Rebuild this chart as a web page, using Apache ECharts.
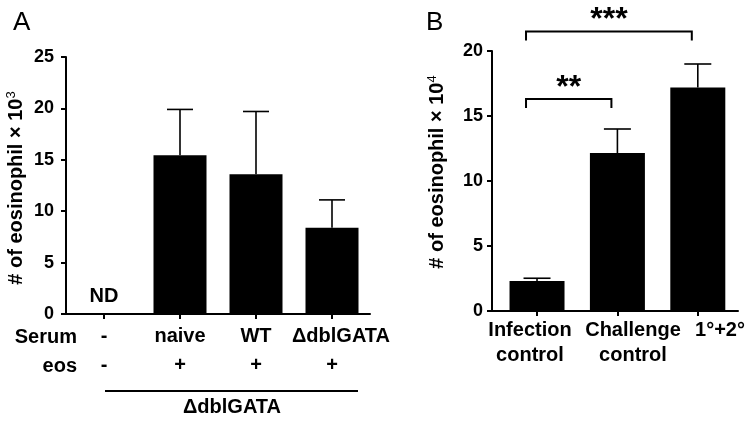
<!DOCTYPE html>
<html>
<head>
<meta charset="utf-8">
<script src="https://cdn.jsdelivr.net/npm/echarts@6/dist/echarts.min.js"></script>
<style>html,body{margin:0;padding:0;background:#fff}#c{width:756px;height:423px}</style>
</head>
<body>
<div id="c"></div>
<script>
// Panel A data
const aSerum = ['-', 'naive', 'WT', 'ΔdblGATA'];
const aEos = ['-', '+', '+', '+'];
const aValues = [null, 15.45, 13.6, 8.4];
const aErrors = [null, 4.45, 6.1, 2.7];
const aTicks = [0, 5, 10, 15, 20, 25];
// Panel B data
const bCategories = ['Infection\ncontrol', 'Challenge\ncontrol', '1°+2°'];
const bValues = [2.3, 12.15, 17.2];
const bErrors = [0.22, 1.85, 1.8];
const bTicks = [0, 5, 10, 15, 20];
const bBrackets = [
  { from: 0, to: 1, y: 16.3, text: '**' },
  { from: 0, to: 2, y: 21.5, text: '***' }
];

const FONT = '"Liberation Sans", Arial, Helvetica, sans-serif';
const chart = echarts.init(document.getElementById('c'), null, { renderer: 'canvas' });

function errRender(half) {
  return function (params, api) {
    const x = api.value(0), v = api.value(1), e = api.value(2);
    if (v == null || isNaN(v)) return;
    const p0 = api.coord([x, v]);
    const p1 = api.coord([x, v + e]);
    return {
      type: 'group',
      children: [
        { type: 'line', shape: { x1: p0[0], y1: p0[1], x2: p1[0], y2: p1[1] }, style: { stroke: '#000', lineWidth: 1.6 } },
        { type: 'line', shape: { x1: p1[0] - half, y1: p1[1], x2: p1[0] + half, y2: p1[1] }, style: { stroke: '#000', lineWidth: 1.6 } }
      ]
    };
  };
}

const axisLineStyle = { show: true, onZero: false, lineStyle: { color: '#000', width: 2 } };
const tickStyle = { show: true, inside: false, length: 5, lineStyle: { color: '#000', width: 2 } };

// label nudges for panel B category labels (padding shifts centred text)
const bLabelPad = [[0, 6, 0, 0], [0, 0, 0, 36], [0, 0, 0, 46]];

const option = {
  animation: false,
  textStyle: { fontFamily: FONT },
  grid: [
    { left: 66, top: 57, width: 304, height: 257 },
    { left: 492, top: 51, width: 246, height: 260 }
  ],
  xAxis: [
    {
      type: 'category', gridIndex: 0, data: aSerum,
      axisLine: axisLineStyle,
      axisTick: Object.assign({ alignWithLabel: true }, tickStyle),
      axisLabel: {
        margin: 8, interval: 0,
        formatter: function (v, i) {
          const k = i === 3 ? 'd' : 'c';
          return '{' + k + '|' + v + '}\n{c|' + aEos[i] + '}';
        },
        rich: {
          c: { fontSize: 20, fontWeight: 'bold', lineHeight: 29, color: '#000', fontFamily: FONT },
          d: { fontSize: 20, fontWeight: 'bold', lineHeight: 29, color: '#000', fontFamily: FONT, padding: [0, 0, 0, 18] }
        }
      }
    },
    {
      type: 'value', gridIndex: 1, min: -0.56, max: 2.5,
      splitLine: { show: false },
      axisLine: axisLineStyle,
      axisTick: Object.assign({ customValues: [0, 1, 2] }, tickStyle),
      axisLabel: { show: false }
    },
    {
      type: 'category', gridIndex: 1, position: 'bottom',
      data: bCategories.map(function (c, i) { return { value: c, textStyle: { padding: bLabelPad[i] } }; }),
      axisLine: { show: false }, axisTick: { show: false },
      axisLabel: { interval: 0, margin: 7, fontSize: 20, fontWeight: 'bold', lineHeight: 25, color: '#000', fontFamily: FONT }
    }
  ],
  yAxis: [
    {
      type: 'value', gridIndex: 0, min: aTicks[0], max: aTicks[aTicks.length - 1], interval: 5,
      splitLine: { show: false },
      axisLine: axisLineStyle, axisTick: tickStyle,
      axisLabel: { margin: 12, fontSize: 18, fontWeight: 'bold', color: '#000', fontFamily: FONT },
      name: '# of eosinophil × 10{s|3}', nameLocation: 'middle', nameGap: 38,
      nameTextStyle: {
        fontSize: 20, fontWeight: 'bold', color: '#000', fontFamily: FONT, padding: [0, 5, 0, 0],
        rich: { s: { fontSize: 13, fontWeight: 'normal', color: '#000', fontFamily: FONT, padding: [0, 0, 10, 0] } }
      }
    },
    {
      type: 'value', gridIndex: 1, min: bTicks[0], max: bTicks[bTicks.length - 1], interval: 5,
      splitLine: { show: false },
      axisLine: axisLineStyle, axisTick: tickStyle,
      axisLabel: { margin: 9, fontSize: 18, fontWeight: 'bold', color: '#000', fontFamily: FONT },
      name: '# of eosinophil × 10{s|4}', nameLocation: 'middle', nameGap: 43,
      nameTextStyle: {
        fontSize: 20, fontWeight: 'bold', color: '#000', fontFamily: FONT, padding: [0, 0, 0, 18],
        rich: { s: { fontSize: 13, fontWeight: 'normal', color: '#000', fontFamily: FONT, padding: [0, 0, 10, 0] } }
      }
    }
  ],
  series: [
    {
      type: 'bar', xAxisIndex: 0, yAxisIndex: 0, barWidth: 53,
      itemStyle: { color: '#000' },
      data: aValues.map(function (v) { return v == null ? '-' : v; })
    },
    {
      type: 'custom', xAxisIndex: 0, yAxisIndex: 0,
      renderItem: errRender(13),
      data: aValues.map(function (v, i) { return v == null ? [i, NaN, NaN] : [i, v, aErrors[i]]; })
    },
    {
      type: 'scatter', xAxisIndex: 0, yAxisIndex: 0, symbolSize: 0,
      itemStyle: { color: '#000', opacity: 1 },
      data: aValues.map(function (v, i) { return v == null ? [i, 0] : null; }).filter(function (d) { return d; }),
      label: { show: true, position: 'top', distance: 8, formatter: 'ND', fontSize: 20, fontWeight: 'bold', color: '#000', opacity: 1, fontFamily: FONT }
    },
    {
      type: 'bar', xAxisIndex: 1, yAxisIndex: 1, barWidth: 55,
      itemStyle: { color: '#000' },
      data: bValues.map(function (v, i) { return [i, v]; })
    },
    {
      type: 'custom', xAxisIndex: 1, yAxisIndex: 1,
      renderItem: errRender(13.5),
      data: bValues.map(function (v, i) { return [i, v, bErrors[i]]; })
    },
    {
      type: 'custom', xAxisIndex: 1, yAxisIndex: 1, clip: false,
      renderItem: function (params, api) {
        const b = bBrackets[params.dataIndex];
        const pa = api.coord([b.from, b.y]);
        const pb = api.coord([b.to, b.y]);
        const x1 = pa[0] - 11, x2 = pb[0] - 6, y = pa[1], drop = 9;
        return {
          type: 'group',
          children: [
            { type: 'polyline', shape: { points: [[x1, y + drop], [x1, y], [x2, y], [x2, y + drop]] }, style: { stroke: '#000', lineWidth: 2, fill: null } },
            { type: 'text', style: { text: b.text, x: (x1 + x2) / 2, y: y - 27, align: 'center', verticalAlign: 'top', font: 'bold 32px ' + FONT, fill: '#000' } }
          ]
        };
      },
      data: bBrackets.map(function (b, i) { return [b.from, b.y]; })
    }
  ],
  graphic: [
    { type: 'text', left: 13, top: 10, style: { text: 'A', font: '26px ' + FONT, fill: '#000' } },
    { type: 'text', left: 426, top: 10, style: { text: 'B', font: '26px ' + FONT, fill: '#000' } },
    { type: 'text', x: 77, y: 337, style: { text: 'Serum', align: 'right', verticalAlign: 'middle', font: 'bold 20px ' + FONT, fill: '#000' } },
    { type: 'text', x: 77, y: 366, style: { text: 'eos', align: 'right', verticalAlign: 'middle', font: 'bold 20px ' + FONT, fill: '#000' } },
    { type: 'line', shape: { x1: 105, y1: 391, x2: 358, y2: 391 }, style: { stroke: '#000', lineWidth: 2 } },
    { type: 'text', x: 232, y: 407, style: { text: 'ΔdblGATA', align: 'center', verticalAlign: 'middle', font: 'bold 20px ' + FONT, fill: '#000' } }
  ]
};
chart.setOption(option);
</script>
</body>
</html>
